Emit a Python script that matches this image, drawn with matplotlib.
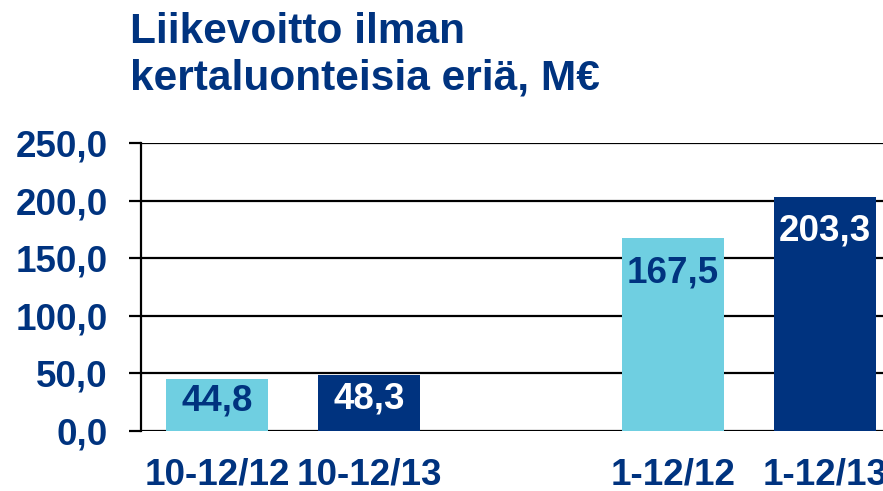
import matplotlib.pyplot as plt

# data
categories = ["10-12/12", "10-12/13", "", "1-12/12", "1-12/13"]
values = [44.8, 48.3, None, 167.5, 203.3]
value_labels = ["44,8", "48,3", "", "167,5", "203,3"]
y_ticks = [0, 50, 100, 150, 200, 250]
y_tick_labels = ["0,0", "50,0", "100,0", "150,0", "200,0", "250,0"]

LIGHT = "#6FCFE1"
DARK = "#00337F"
TEXT = "#00337F"

plt.rcParams['font.family'] = ['Liberation Sans', 'DejaVu Sans']
plt.rcParams['font.weight'] = 'bold'

fig = plt.figure(figsize=(8.83, 4.91), dpi=100)
ax = fig.add_axes([141 / 883, 60 / 491, 760 / 883, 288 / 491])

colors = [LIGHT, DARK, LIGHT, LIGHT, DARK]
for i, v in enumerate(values):
    if v is None:
        continue
    ax.bar(i, v, width=0.67, color=colors[i], zorder=3)
    txt_color = "white" if colors[i] == DARK else TEXT
    ly = max(v / 2 + 4, v - 30)
    ax.text(i, ly, value_labels[i], ha='center', va='center', fontsize=26.5,
            fontweight='bold', color=txt_color, zorder=4)

ax.set_xlim(-0.5, 4.5)
ax.set_ylim(0, 250)
ax.set_yticks(y_ticks)
ax.set_yticklabels(y_tick_labels)
ax.set_xticks(range(len(categories)))
ax.set_xticklabels(categories)

ax.grid(axis='y', color='black', linewidth=1.6, zorder=1)
ax.tick_params(axis='y', length=9, width=1.6, pad=15, labelsize=26.5, labelcolor=TEXT)
ax.tick_params(axis='x', length=0, pad=19, labelsize=26.5, labelcolor=TEXT)
for s in ['top', 'right', 'bottom']:
    ax.spines[s].set_visible(False)
ax.spines['left'].set_linewidth(1.6)
ax.spines['left'].set_zorder(5)

fig.text(130 / 883, 1 - 12 / 491, "Liikevoitto ilman\nkertaluonteisia eriä, M€",
         ha='left', va='top', fontsize=30.5, fontweight='bold', color=TEXT,
         linespacing=1.22)

fig.savefig("out.png", dpi=100)
